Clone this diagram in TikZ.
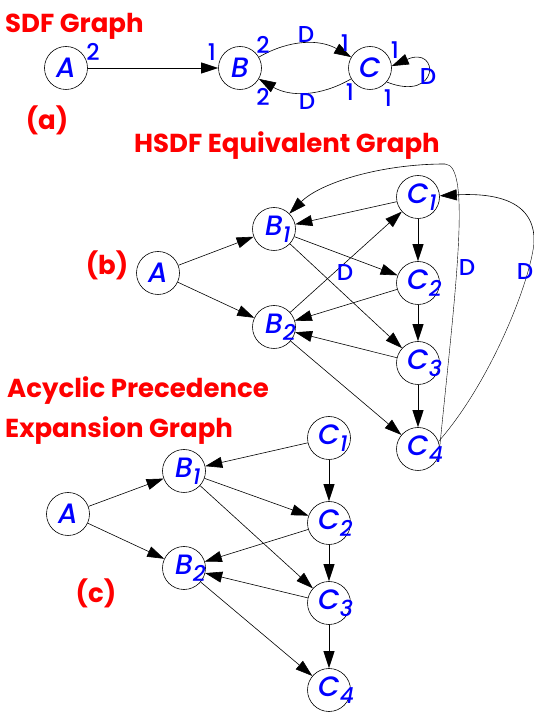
\documentclass[tikz,border=0pt]{standalone}
\usepackage{fontspec}
\setmainfont{Poppins}
\newfontfamily\medio{Poppins}[UprightFont=* Medium, ItalicFont=* Medium Italic]
\usetikzlibrary{positioning,arrows.meta}

% pedice che sporge a destra della lettera
\newcommand{\pedice}[2]{#1\rlap{\raisebox{-7pt}{\fontsize{22}{22}\selectfont #2}}}

\begin{document}
\begin{tikzpicture}[x=1pt, y=1pt,
    stato/.style={circle, draw, line width=0.6pt, minimum size=43pt, inner sep=0pt,
      text=blue, font=\fontsize{28}{28}\selectfont\medio\itshape},
    freccia/.style={-{Triangle[length=17pt,width=11pt]}, line width=0.6pt},
    peso/.style={text=blue, inner sep=0pt, font=\fontsize{23}{23}\selectfont\medio},
    titolo/.style={text=red, inner sep=0pt, font=\fontsize{26}{26}\selectfont\bfseries},
    on grid]
  \useasboundingbox (0,0) rectangle (534,713);

  % (a) grafo SDF
  \node[titolo, anchor=base west] (tSDF) at (5,680) {SDF Graph};
  \node[titolo] (lA) at (47,593) {(a)};
  \node[stato] (A) at (66,645) {A};
  \node[stato] (B) at (240,645) {B};
  \node[stato] (C) at (370,645) {C};
  \draw[freccia] (A) -- (B);
  \draw[freccia] (B) to[bend left=30] (C);
  \draw[freccia] (C) to[bend left=30] (B);
  \draw[freccia] (C.-40) .. controls (440,610) and (440,668) .. (C.5);
  % tassi e ritardi
  \node[peso] (pA) at (93,661) {2};
  \node[peso] (pB1) at (212,661) {1};
  \node[peso] (pB2) at (263,668) {2};
  \node[peso] (pB3) at (263,616) {2};
  \node[peso] (pC1) at (345,670) {1};
  \node[peso] (pC2) at (350,621) {1};
  \node[peso] (pC3) at (395,663) {1};
  \node[peso] (pC4) at (388,615) {1};
  \node[peso] (dBC) at (306,678) {D};
  \node[peso] (dCB) at (307,611) {D};
  \node[peso] (dCC) at (428,636) {D};

  % (b) grafo HSDF equivalente
  \node[titolo, anchor=base] (tHSDF) at (287,560) {HSDF Equivalent Graph};
  \node[titolo] (lB) at (107,448) {(b)};
  \node[stato] (bA) at (158,440) {A};
  \node[stato] (bB1) at (274,484) {\pedice{B}{1}};
  \node[stato, below=98pt of bB1] (bB2) {\pedice{B}{2}};
  \node[stato] (bC1) at (418,516) {\pedice{C}{1}};
  \node[stato, below=86pt of bC1] (bC2) {\pedice{C}{2}};
  \node[stato, below=80pt of bC2] (bC3) {\pedice{C}{3}};
  \node[stato, below=86pt of bC3] (bC4) {\pedice{C}{4}};
  \coordinate (t1) at (445,549);
  \coordinate (t2) at (534,470);
  \draw[freccia] (bA) -- (bB1);
  \draw[freccia] (bA) -- (bB2);
  \draw[freccia] (bC1) -- (bB1);
  \draw[freccia] (bB1) -- (bC2);
  \draw[freccia] (bB1) -- (bC3);
  \draw[freccia] (bC2) -- (bB2);
  \draw[freccia] (bC3) -- (bB2);
  \draw[freccia] (bB2) -- (bC4);
  \draw[freccia] (bB2) -- (bC1);
  \draw[freccia] (bC1) -- (bC2);
  \draw[freccia] (bC2) -- (bC3);
  \draw[freccia] (bC3) -- (bC4);
  % archi con ritardo verso l'alto
  \draw (bC4.5) .. controls (455,420) and (472,549) .. (t1);
  \draw[freccia] (t1) .. controls (380,549) and (320,530) .. (bB1);
  \draw (bC4.20) .. controls (490,330) and (530,430) .. (t2);
  \draw[freccia] (t2) .. controls (536,515) and (490,520) .. (bC1);
  \node[peso] (d1) at (345,440) {D};
  \node[peso] (d2) at (467,445) {D};
  \node[peso] (d3) at (525,441) {D};

  % (c) grafo aciclico di espansione
  \node[titolo, anchor=base west] (tAPEG1) at (7,315) {Acyclic Precedence};
  \node[titolo, anchor=base west] (tAPEG2) at (5,275) {Expansion Graph};
  \node[titolo] (lC) at (96,120) {(c)};
  \node[stato] (cA) at (68,199) {A};
  \node[stato] (cB1) at (184,242) {\pedice{B}{1}};
  \node[stato, below=97pt of cB1] (cB2) {\pedice{B}{2}};
  \node[stato] (cC1) at (329,275) {\pedice{C}{1}};
  \node[stato, below=85pt of cC1] (cC2) {\pedice{C}{2}};
  \node[stato, below=80pt of cC2] (cC3) {\pedice{C}{3}};
  \node[stato, below=87pt of cC3] (cC4) {\pedice{C}{4}};
  \draw[freccia] (cA) -- (cB1);
  \draw[freccia] (cA) -- (cB2);
  \draw[freccia] (cC1) -- (cB1);
  \draw[freccia] (cB1) -- (cC2);
  \draw[freccia] (cB1) -- (cC3);
  \draw[freccia] (cC2) -- (cB2);
  \draw[freccia] (cC3) -- (cB2);
  \draw[freccia] (cB2) -- (cC4);
  \draw[freccia] (cC1) -- (cC2);
  \draw[freccia] (cC2) -- (cC3);
  \draw[freccia] (cC3) -- (cC4);
\end{tikzpicture}
\end{document}
